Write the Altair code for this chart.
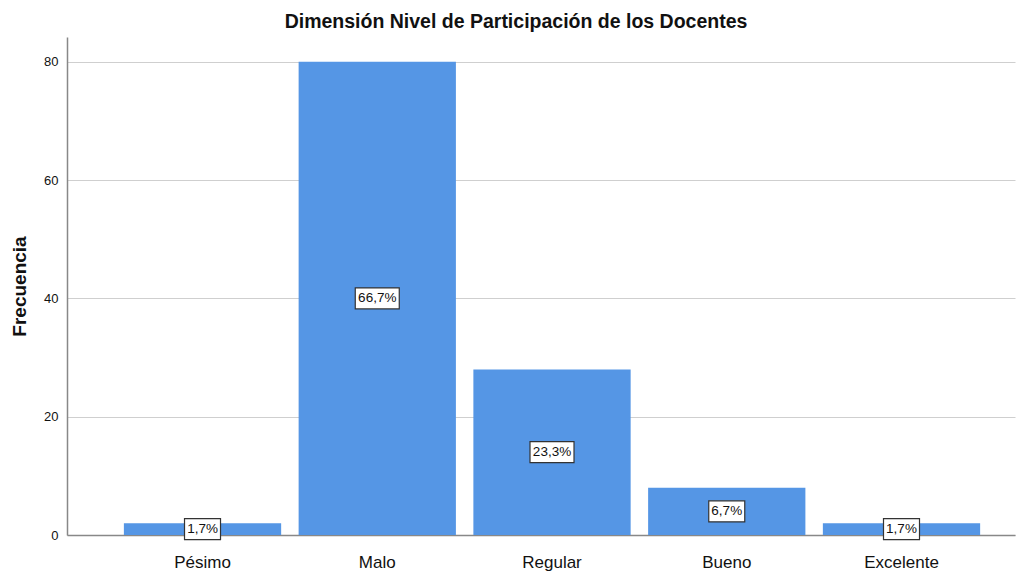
import altair as alt
import pandas as pd

categories = ["Pésimo", "Malo", "Regular", "Bueno", "Excelente"]
frecuencia = [2, 80, 28, 8, 2]
porcentajes = ["1,7%", "66,7%", "23,3%", "6,7%", "1,7%"]

df = pd.DataFrame({"cat": categories, "freq": frecuencia, "pct": porcentajes})

FONT = "Liberation Sans"

x = alt.X("cat:N", sort=categories, title=None,
          scale=alt.Scale(paddingInner=0.1, paddingOuter=0.2625, align=0.62),
          axis=alt.Axis(labelAngle=0, labelFontSize=17, labelColor="#111", labelFont=FONT,
                        labelPadding=19, ticks=False, domainColor="#888", domainWidth=1.5))

bars = alt.Chart(df).mark_bar(color="#5596e5").encode(
    x=x,
    y=alt.Y("freq:Q", title="Frecuencia",
            scale=alt.Scale(domain=[0, 84.2], nice=False),
            axis=alt.Axis(values=[0, 20, 40, 60, 80], ticks=False, labelFontSize=13,
                          labelFont=FONT, labelColor="#111", labelPadding=9,
                          titleFont=FONT, titleFontSize=19, titleFontWeight="bold",
                          titleColor="#111", titleX=-38, titlePadding=0,
                          domainColor="#888", domainWidth=1.5,
                          gridColor="#cfcfcf", gridWidth=1.2)),
)

boxes = alt.Chart(df).transform_calculate(
    mid="datum.freq / 2",
    shp="length(datum.pct) > 4 ? 'M-22,-10.5H22V10.5H-22Z' : 'M-18,-10.5H18V10.5H-18Z'",
).mark_point(filled=True, fill="white", stroke="#333", strokeWidth=1.2, opacity=1, size=4).encode(
    x=alt.X("cat:N", sort=categories),
    y=alt.Y("mid:Q"),
    shape=alt.Shape("shp:N", scale=None),
)

labels = alt.Chart(df).transform_calculate(
    mid="datum.freq / 2"
).mark_text(font=FONT, fontSize=13.5, color="#111", baseline="middle", align="center").encode(
    x=alt.X("cat:N", sort=categories),
    y=alt.Y("mid:Q"),
    text="pct:N",
)

chart = alt.layer(bars, boxes, labels).properties(
    width=948, height=498,
    title=alt.TitleParams("Dimensión Nivel de Participación de los Docentes",
                          font=FONT, fontSize=19.5, fontWeight="bold", color="#111",
                          anchor="middle", dx=-25, offset=5),
    autosize=alt.AutoSizeParams(type="none"),
    padding={"left": 59, "top": 29, "right": 1, "bottom": 36},
).configure_view(stroke=None).configure_axisY(gridColor="#cfcfcf").configure_axisX(grid=False)

chart.save("out.html", embed_options={"renderer": "svg", "actions": False})
